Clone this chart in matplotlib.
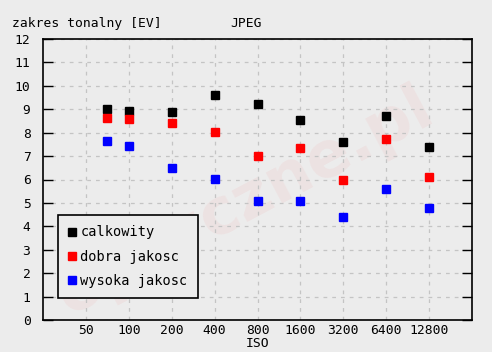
import matplotlib
matplotlib.use("Agg")
import matplotlib.pyplot as plt
from matplotlib.ticker import FixedLocator, NullFormatter, NullLocator

iso = [70, 100, 200, 400, 800, 1600, 3200, 6400, 12800]
calkowity = [9.00, 8.91, 8.87, 9.59, 9.21, 8.53, 7.59, 8.70, 7.37]
dobra = [8.61, 8.57, 8.40, 8.01, 6.99, 7.33, 5.96, 7.72, 6.09]
wysoka = [7.63, 7.42, 6.48, 6.01, 5.07, 5.07, 4.39, 5.58, 4.77]

xticks = [50, 100, 200, 400, 800, 1600, 3200, 6400, 12800]
yticks = list(range(0, 13))

bg = "#ececec"
font = "DejaVu Sans Mono"
fs = 9.4

fig = plt.figure(figsize=(4.92, 3.52), dpi=100, facecolor=bg)
ax = fig.add_axes([43 / 492, 32 / 352, 429 / 492, 281 / 352], facecolor=bg)

# faint watermark
ax.text(0.47, 0.42, "optyczne.pl", transform=ax.transAxes, fontsize=46,
        fontweight="bold", color="red", alpha=0.045, rotation=28,
        ha="center", va="center", family="DejaVu Sans", zorder=1)

ax.plot(iso, calkowity, "s", color="black", ms=6.3, label="calkowity", zorder=3)
ax.plot(iso, dobra, "s", color="red", ms=6.3, label="dobra jakosc", zorder=3)
ax.plot(iso, wysoka, "s", color="blue", ms=6.3, label="wysoka jakosc", zorder=3)

ax.set_xscale("log")
ax.set_xlim(25, 25600)
ax.set_ylim(0, 12)
ax.xaxis.set_major_locator(FixedLocator(xticks))
ax.xaxis.set_minor_locator(NullLocator())
ax.xaxis.set_minor_formatter(NullFormatter())
ax.set_xticklabels([str(t) for t in xticks], family=font, fontsize=fs)
ax.set_yticks(yticks)
ax.set_yticklabels([str(t) for t in yticks], family=font, fontsize=fs)

ax.tick_params(axis="x", length=0, pad=3)
ax.tick_params(axis="y", direction="in", length=7, width=1, right=True, pad=9)
ax.grid(True, color="#c4c4c4", linestyle=(0, (3, 4)), linewidth=0.9)
for s in ax.spines.values():
    s.set_linewidth(1.2)

ax.set_xlabel("ISO", family=font, fontsize=fs, labelpad=0)
fig.text(12 / 492, 1 - 27 / 352, "zakres tonalny [EV]", family=font, fontsize=fs,
         va="baseline")
fig.text(246 / 492, 1 - 27 / 352, "JPEG", family=font, fontsize=fs,
         ha="center", va="baseline")

leg = ax.legend(loc="lower left", bbox_to_anchor=(15 / 429, 22 / 281),
                prop={"family": font, "size": 9.8}, frameon=True, fancybox=False,
                handlelength=0.6, handletextpad=0.3, labelspacing=0.75,
                borderpad=0.75, borderaxespad=0)
leg.get_frame().set_edgecolor("black")
leg.get_frame().set_linewidth(1.2)
leg.get_frame().set_facecolor(bg)
leg.get_frame().set_alpha(1)

fig.savefig("out.png", dpi=100, facecolor=bg)
